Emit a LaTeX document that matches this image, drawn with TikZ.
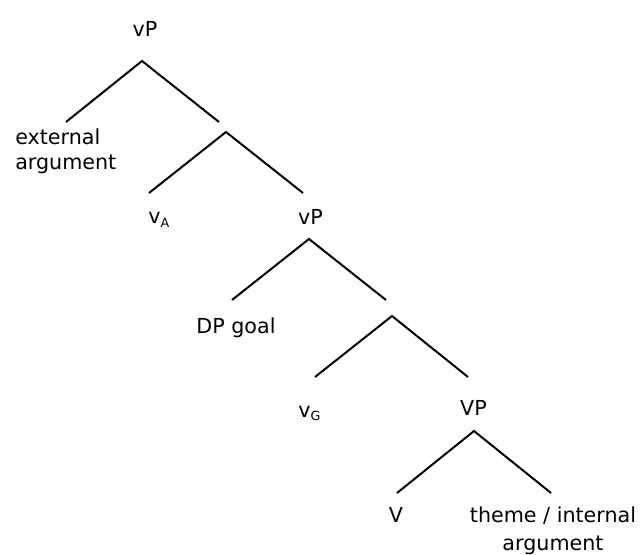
\documentclass[tikz,border=0pt]{standalone}
\usepackage{fontspec}
\setmainfont{DejaVu Sans}
\begin{document}
\begin{tikzpicture}[x=0.75pt,y=-0.75pt,
  lbl/.style={inner sep=0pt,font=\fontsize{15.5}{18}\selectfont},
  branch/.style={line width=1.5pt,line join=miter,line cap=butt}]
\useasboundingbox (0,0) rectangle (641,555);
% subscript helper
\newcommand\lowsub[1]{\raisebox{-2.4pt}{\fontsize{9.5}{10}\selectfont #1}}
% labels
\node[lbl,anchor=base] (top) at (145,37) {vP};
\node[lbl,anchor=base west] (ext) at (15,145)
  {\fontsize{15.5}{18.75}\selectfont\begin{tabular}[t]{@{}l@{}}external\\argument\end{tabular}};
\node[lbl,anchor=base west] (va) at (148,224) {v\lowsub{A}};
\node[lbl,anchor=base] (vp2) at (310.5,225) {vP};
\node[lbl,anchor=base] (dp) at (236,334) {DP goal};
\node[lbl,anchor=base west] (vg) at (298,417) {v\lowsub{G}};
\node[lbl,anchor=base] (VP) at (473.5,415) {VP};
\node[lbl,anchor=base] (V) at (396,522) {V};
\node[lbl,anchor=base] (theme) at (553,522)
  {\fontsize{15.5}{21}\selectfont\begin{tabular}[t]{@{}c@{}}theme / internal\\argument\end{tabular}};
% branch points
\coordinate (a1) at (142,61);  \coordinate (l1) at (66,122);  \coordinate (r1) at (219,122);
\coordinate (a2) at (226,132); \coordinate (l2) at (149,193); \coordinate (r2) at (303,193);
\coordinate (a3) at (309,239); \coordinate (l3) at (232,300); \coordinate (r3) at (386,300);
\coordinate (a4) at (392,316); \coordinate (l4) at (315,377); \coordinate (r4) at (468,377);
\coordinate (a5) at (474,431); \coordinate (l5) at (397,493); \coordinate (r5) at (551,493);
% branches
\foreach \i in {1,...,5}{
  \draw[branch] (l\i) -- (a\i) -- (r\i);
}
\end{tikzpicture}
\end{document}
